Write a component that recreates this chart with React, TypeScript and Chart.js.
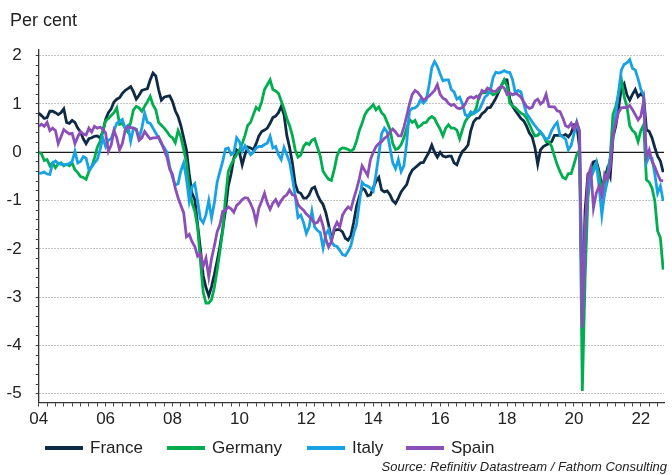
import React, { useEffect, useRef } from 'react';
import { Chart, registerables } from 'chart.js';

Chart.register(...registerables);

// Monthly observations, January 2004 (index 0) to September 2022 (index 224)
const SERIES_NAMES = ['France', 'Germany', 'Italy', 'Spain'];
const SERIES_COLORS = ['#0f2a45', '#00ad4f', '#18a2e4', '#8c4fb7'];
const X_TICK_LABELS = ['04', '06', '08', '10', '12', '14', '16', '18', '20', '22'];
const Y_TICK_LABELS = ['2', '1', '0', '-1', '-2', '-3', '-4', '-5'];

const FRANCE = [
  0.81, 0.76, 0.70, 0.72, 0.85, 0.85, 0.82, 0.78, 0.82, 0.90, 0.62, 0.60, 0.66, 0.62, 0.50, 0.42, 0.28, 0.18, 0.28, 0.30,
  0.33, 0.34, 0.30, 0.42, 0.68, 0.82, 0.90, 1.04, 1.10, 1.13, 1.22, 1.28, 1.32, 1.36, 1.25, 1.10, 1.18, 1.28, 1.30, 1.32,
  1.50, 1.64, 1.58, 1.30, 1.08, 1.14, 1.16,
  1.17, 1.05, 0.86, 0.74, 0.55, 0.30, 0.05, -0.45, -0.85, -0.98, -1.50, -2.00, -2.55, -2.80, -2.97, -2.78, -2.53, -2.25,
  -1.95, -1.60, -1.20, -0.70, -0.45, -0.12, 0.05, 0.00, -0.26, -0.05, 0.11, 0.09, 0.05, 0.18, 0.34, 0.43, 0.46, 0.50,
  0.60, 0.72, 0.75, 0.82, 0.95, 0.78, 0.35, 0.10, -0.22, -0.65,
  -0.82, -0.85, -0.95, -0.95, -0.88, -0.75, -0.72, -0.88, -1.00, -1.08, -1.25, -1.50, -1.80, -1.62, -1.60, -1.60, -1.65,
  -1.78, -1.82, -1.72, -1.45, -1.12, -0.92, -0.74, -0.78, -0.90, -0.88, -0.74, -0.60, -0.52, -0.78, -0.82, -0.80, -0.88,
  -1.00, -1.06, -0.95, -0.82, -0.74, -0.67, -0.48, -0.37, -0.32, -0.27, -0.22, -0.21,
  -0.10, 0.00, 0.15, 0.00, -0.10, 0.00, -0.08, -0.10, -0.08, -0.08, -0.22, -0.26, -0.10, 0.02, 0.07, 0.15, 0.45, 0.63,
  0.70, 0.71, 0.80, 0.84, 0.92, 0.93, 1.02, 1.12, 1.25, 1.38, 1.50, 1.50, 1.10, 0.95, 0.86, 0.78, 0.70, 0.65, 0.54, 0.40,
  0.32, 0.10, -0.25, 0.05, 0.12, 0.15, 0.18, 0.22,
  0.35, 0.35, 0.35, 0.34, 0.37, 0.32, 0.40, 0.57, 0.58, 0.10, -3.40, -1.20, -0.45, -0.39, -0.20, -0.18, -0.39, -0.72,
  -0.55, -0.34, -0.50, 0.30, 0.55, 0.90, 1.33, 1.42, 1.19, 1.08, 1.20, 1.30, 1.15, 1.21, 1.15, 0.47, 0.43, 0.30, 0.10,
  -0.08, -0.18, -0.41,
];

const GERMANY = [
  0.00, -0.03, -0.17, -0.15, -0.28, -0.22, -0.32, -0.24, -0.22, -0.28, -0.25, -0.28, -0.22, -0.36, -0.42, -0.50, -0.52,
  -0.56, -0.40, -0.30, -0.12, 0.10, 0.22, 0.45, 0.65, 0.70, 0.76, 0.82, 0.92, 0.58, 0.60, 0.50, 0.42, 0.62, 0.88, 0.95,
  0.92, 0.85, 0.95, 1.05, 1.16, 0.98, 0.88, 0.62, 0.56, 0.50, 0.43,
  0.34, 0.30, 0.20, 0.45, 0.32, 0.06, -0.20, -0.75, -1.05, -1.22, -1.55, -2.25, -2.90, -3.12, -3.12, -3.05, -2.80, -2.45,
  -2.05, -1.63, -0.95, -0.40, -0.26, -0.14, -0.05, 0.04, 0.18, 0.35, 0.56, 0.62, 0.78, 0.93, 0.88, 1.05, 1.30, 1.40,
  1.50, 1.30, 1.27, 1.22, 1.06, 0.90, 0.70, 0.55, 0.35, 0.05,
  -0.10, -0.06, 0.12, 0.19, 0.16, 0.25, 0.28, 0.10, -0.08, -0.39, -0.48, -0.56, -0.58, -0.36, -0.08, 0.06, 0.09, 0.08,
  0.06, 0.02, 0.07, 0.23, 0.45, 0.60, 0.78, 0.87, 0.92, 0.99, 0.88, 0.94, 0.82, 0.76, 0.62, 0.48, 0.18, 0.06, 0.08, 0.16,
  0.30, 0.50, 0.68, 0.62, 0.66, 0.52, 0.55, 0.61,
  0.62, 0.70, 0.74, 0.70, 0.58, 0.48, 0.34, 0.50, 0.57, 0.50, 0.50, 0.46, 0.28, 0.47, 0.64, 0.72, 0.78, 0.80, 0.92, 1.18,
  1.23, 1.23, 1.26, 1.24, 1.19, 1.22, 1.27, 1.38, 1.50, 1.38, 1.02, 0.96, 0.92, 0.86, 0.81, 0.78, 0.71, 0.58, 0.45, 0.34,
  0.35, 0.42, 0.35, 0.22, 0.22, 0.12,
  -0.08, -0.26, -0.40, -0.52, -0.55, -0.44, -0.44, -0.25, -0.05, 0.05, -4.94, -2.60, -0.95, -0.46, -0.30, -0.24, -0.46,
  -0.80, -0.85, -0.46, -0.10, 0.78, 0.95, 1.20, 1.52, 1.15, 0.95, 0.55, 0.45, 0.40, 0.22, 0.45, 0.57, -0.57, -0.62,
  -0.74, -1.00, -1.63, -1.77, -2.43,
];

const ITALY = [
  -0.43, -0.43, -0.41, -0.45, -0.46, -0.22, -0.18, -0.23, -0.25, -0.25, -0.26, -0.23, -0.19, 0.02, -0.22, -0.19, -0.09,
  -0.12, -0.36, -0.30, -0.22, -0.15, 0.05, 0.30, 0.12, 0.25, 0.28, 0.45, 0.60, 0.64, 0.68, 0.50, 0.55, 0.23, 0.50, 0.48,
  0.30, 0.50, 0.81, 0.62, 0.60, 0.50, 0.40, 0.30, 0.18, 0.10, 0.00,
  -0.30, -0.52, -0.68, -0.65, -0.38, -0.22, -0.55, -1.01, -0.72, -0.65, -1.01, -1.38, -1.46, -1.29, -1.00, -1.36, -1.05,
  -0.62, -0.40, -0.19, 0.07, 0.09, -0.05, -0.01, 0.30, 0.22, 0.02, 0.14, 0.05, -0.05, 0.00, 0.09, 0.12, 0.12, 0.16, 0.19,
  0.33, 0.09, 0.12, -0.05, -0.15, 0.10, -0.05, -0.20, -0.53, -0.90,
  -1.35, -1.30, -1.45, -1.68, -1.55, -1.22, -1.55, -1.62, -1.66, -1.98, -1.70, -1.60, -1.85, -1.93, -1.95, -2.03, -2.12,
  -2.14, -2.05, -1.93, -1.68, -1.50, -1.05, -0.62, -0.68, -0.70, -0.74, -0.80, -0.45, -0.05, 0.38, 0.50, 0.42, 0.10,
  -0.22, -0.34, -0.15, -0.40, -0.28, 0.20, 0.85, 0.91, 0.92, 0.97, 1.09, 1.02,
  1.08, 1.38, 1.75, 1.88, 1.78, 1.62, 1.48, 1.50, 1.50, 1.30, 1.25, 1.10, 1.14, 1.00, 0.78, 0.74, 0.84, 0.80, 0.84, 0.88,
  1.00, 1.14, 1.19, 1.28, 1.55, 1.66, 1.64, 1.66, 1.69, 1.66, 1.65, 1.50, 1.22, 1.28, 1.25, 1.00, 0.80, 0.72, 0.63, 0.55,
  0.48, 0.42, 0.34, 0.27, 0.30, 0.45,
  0.55, 0.62, 0.35, 0.32, 0.27, 0.05, 0.14, 0.38, 0.62, 0.40, -3.55, -1.60, -0.80, -0.53, -0.40, -0.22, -0.70, -1.30,
  -0.85, -0.60, -0.15, 0.30, 0.80, 1.25, 1.70, 1.82, 1.85, 1.92, 1.74, 1.70, 1.52, 1.30, 1.19, -0.22, -0.08, -0.12,
  -0.45, -0.85, -0.70, -1.01,
];

const SPAIN = [
  0.54, 0.58, 0.54, 0.62, 0.45, 0.50, 0.45, 0.18, 0.32, 0.47, 0.42, 0.38, 0.39, 0.18, 0.32, 0.43, 0.38, 0.36, 0.50, 0.42,
  0.54, 0.50, 0.52, 0.48, 0.40, 0.02, 0.15, 0.45, 0.30, 0.05, 0.18, 0.45, 0.54, 0.51, 0.50, 0.47, 0.25, 0.30, 0.43, 0.35,
  0.28, 0.30, 0.30, 0.32, 0.20, 0.05, -0.10,
  -0.35, -0.46, -0.75, -0.94, -1.10, -1.25, -1.75, -1.70, -1.85, -1.95, -2.15, -2.10, -2.36, -2.19, -2.58, -2.20, -1.94,
  -1.65, -1.50, -1.22, -1.20, -1.13, -1.17, -1.24, -1.10, -1.05, -0.98, -0.94, -0.95, -1.06, -1.20, -1.45, -1.15, -1.01,
  -0.85, -1.05, -1.18, -1.05, -0.98, -1.10, -1.00, -0.92, -0.88, -0.78, -0.88, -0.90,
  -1.08, -1.15, -1.20, -1.28, -1.33, -1.40, -1.47, -1.45, -1.34, -1.53, -1.80, -1.96, -1.85, -1.57, -1.45, -1.55, -1.30,
  -1.20, -1.13, -1.18, -0.96, -0.77, -0.55, -0.28, -0.38, -0.48, -0.15, 0.00, 0.12, 0.18, 0.22, 0.29, 0.33, 0.42, 0.48,
  0.42, 0.34, 0.34, 0.52, 0.75, 1.00, 1.20, 1.28, 1.24, 1.16, 1.08,
  1.12, 1.16, 1.22, 1.28, 1.40, 1.20, 1.12, 1.09, 1.01, 0.97, 0.99, 0.92, 0.90, 0.93, 1.00, 1.12, 1.15, 1.12, 1.16, 1.12,
  1.28, 1.25, 1.33, 1.30, 1.26, 1.26, 1.33, 1.37, 1.33, 1.20, 1.23, 1.19, 1.22, 1.19, 1.14, 1.04, 0.95, 0.91, 0.93, 1.06,
  1.10, 1.00, 1.05, 1.20, 0.95, 0.94,
  0.94, 0.86, 0.84, 0.71, 0.55, 0.52, 0.60, 0.48, 0.62, 0.45, -3.63, -1.70, -0.50, -0.32, -1.15, -0.85, -0.70, -0.90,
  -0.45, -0.55, -0.30, 0.37, 0.62, 0.83, 0.92, 0.93, 0.92, 0.97, 0.88, 0.78, 0.67, 0.75, 1.06, -0.10, 0.05, -0.19, -0.30,
  -0.45, -0.58, -0.59,
];

const SERIES_VALUES = [FRANCE, GERMANY, ITALY, SPAIN];

const FONT = '"Liberation Sans", Arial, Helvetica, sans-serif';

const zeroLinePlugin = {
  id: 'zeroLine',
  beforeDatasetsDraw(chart: any) {
    const { ctx, chartArea, scales } = chart;
    const y = scales.y.getPixelForValue(0);
    ctx.save();
    ctx.strokeStyle = '#1a1a1a';
    ctx.lineWidth = 1.2;
    ctx.beginPath();
    ctx.moveTo(chartArea.left, y);
    ctx.lineTo(chartArea.right, y);
    ctx.stroke();
    ctx.restore();
  },
};

export default function App() {
  const canvasRef = useRef<HTMLCanvasElement | null>(null);

  useEffect(() => {
    if (!canvasRef.current) return;
    const datasets = SERIES_NAMES.map((name, i) => ({
      label: name,
      data: SERIES_VALUES[i].map((v, k) => ({ x: k, y: v })),
      borderColor: SERIES_COLORS[i],
      backgroundColor: SERIES_COLORS[i],
      borderWidth: 2.8,
      pointRadius: 0,
      tension: 0,
      fill: false,
      order: SERIES_NAMES.length - i,
    }));

    const chart = new Chart(canvasRef.current, {
      type: 'line',
      data: { datasets },
      plugins: [zeroLinePlugin],
      options: {
        animation: false,
        responsive: false,
        maintainAspectRatio: false,
        layout: { padding: { left: 0, right: 8, top: 49.9, bottom: 45 } },
        plugins: {
          legend: { display: false },
          tooltip: { enabled: false },
        },
        scales: {
          x: {
            type: 'linear',
            min: 0,
            max: 224.3,
            afterBuildTicks: (axis: any) => {
              const t = [];
              for (let m = 0; m <= 222; m += 3) t.push({ value: m });
              axis.ticks = t;
            },
            afterFit: (axis: any) => {
              axis.height = 27.5;
            },
            ticks: {
              autoSkip: false,
              maxRotation: 0,
              padding: 3,
              color: '#222',
              font: { family: FONT, size: 17 },
              callback: (value: any) => (value % 24 === 0 ? X_TICK_LABELS[value / 24] : ''),
            },
            grid: {
              drawOnChartArea: false,
              drawTicks: true,
              tickLength: 4,
              tickColor: '#444',
              tickWidth: 1,
            },
            border: { display: true, color: '#333', width: 1.3 },
          },
          y: {
            type: 'linear',
            min: -5.18,
            max: 2.12,
            afterBuildTicks: (axis: any) => {
              const t = [];
              for (let k = -25; k <= 10; k++) t.push({ value: k / 5 });
              axis.ticks = t;
            },
            afterFit: (axis: any) => {
              axis.width = 38.7;
            },
            ticks: {
              autoSkip: false,
              padding: 14,
              color: '#222',
              font: { family: FONT, size: 17 },
              callback: (value: any) => {
                const r = Math.round(value);
                return Math.abs(value - r) < 1e-6 ? Y_TICK_LABELS[2 - r] : '';
              },
            },
            grid: {
              drawOnChartArea: true,
              drawTicks: true,
              tickLength: 3,
              tickColor: '#444',
              tickWidth: 1,
              lineWidth: 1,
              color: (ctx: any) => {
                const v = ctx.tick ? ctx.tick.value : 0.5;
                return Math.abs(v - Math.round(v)) < 1e-6 ? '#b3b3b3' : 'rgba(0,0,0,0)';
              },
            },
            border: { display: true, color: '#333', width: 1.3, dash: [1.5, 1.5] },
          },
        },
      },
    } as any);

    return () => chart.destroy();
  }, []);

  const legendLefts = [45, 167, 307, 406];

  return (
    <div
      style={{
        position: 'absolute',
        left: 0,
        top: 0,
        width: 672,
        height: 475,
        background: '#ffffff',
        fontFamily: FONT,
        color: '#222',
        overflow: 'hidden',
      }}
    >
      <canvas ref={canvasRef} width={672} height={475} style={{ position: 'absolute', left: 0, top: 0, width: 672, height: 475 }} />
      <div style={{ position: 'absolute', left: 10, top: 9, fontSize: 18, lineHeight: '22px' }}>Per cent</div>
      {SERIES_NAMES.map((name, i) => (
        <div
          key={name}
          style={{
            position: 'absolute',
            left: legendLefts[i],
            top: 437,
            height: 22,
            display: 'flex',
            alignItems: 'center',
            fontSize: 17,
            whiteSpace: 'nowrap',
          }}
        >
          <span style={{ display: 'inline-block', width: 38, height: 3.5, background: SERIES_COLORS[i], marginRight: 7 }} />
          <span>{name}</span>
        </div>
      ))}
      <div
        style={{
          position: 'absolute',
          right: 5,
          top: 459,
          fontSize: 13,
          fontStyle: 'italic',
          lineHeight: '16px',
          color: '#222',
          whiteSpace: 'nowrap',
        }}
      >
        Source: Refinitiv Datastream / Fathom Consulting
      </div>
    </div>
  );
}
